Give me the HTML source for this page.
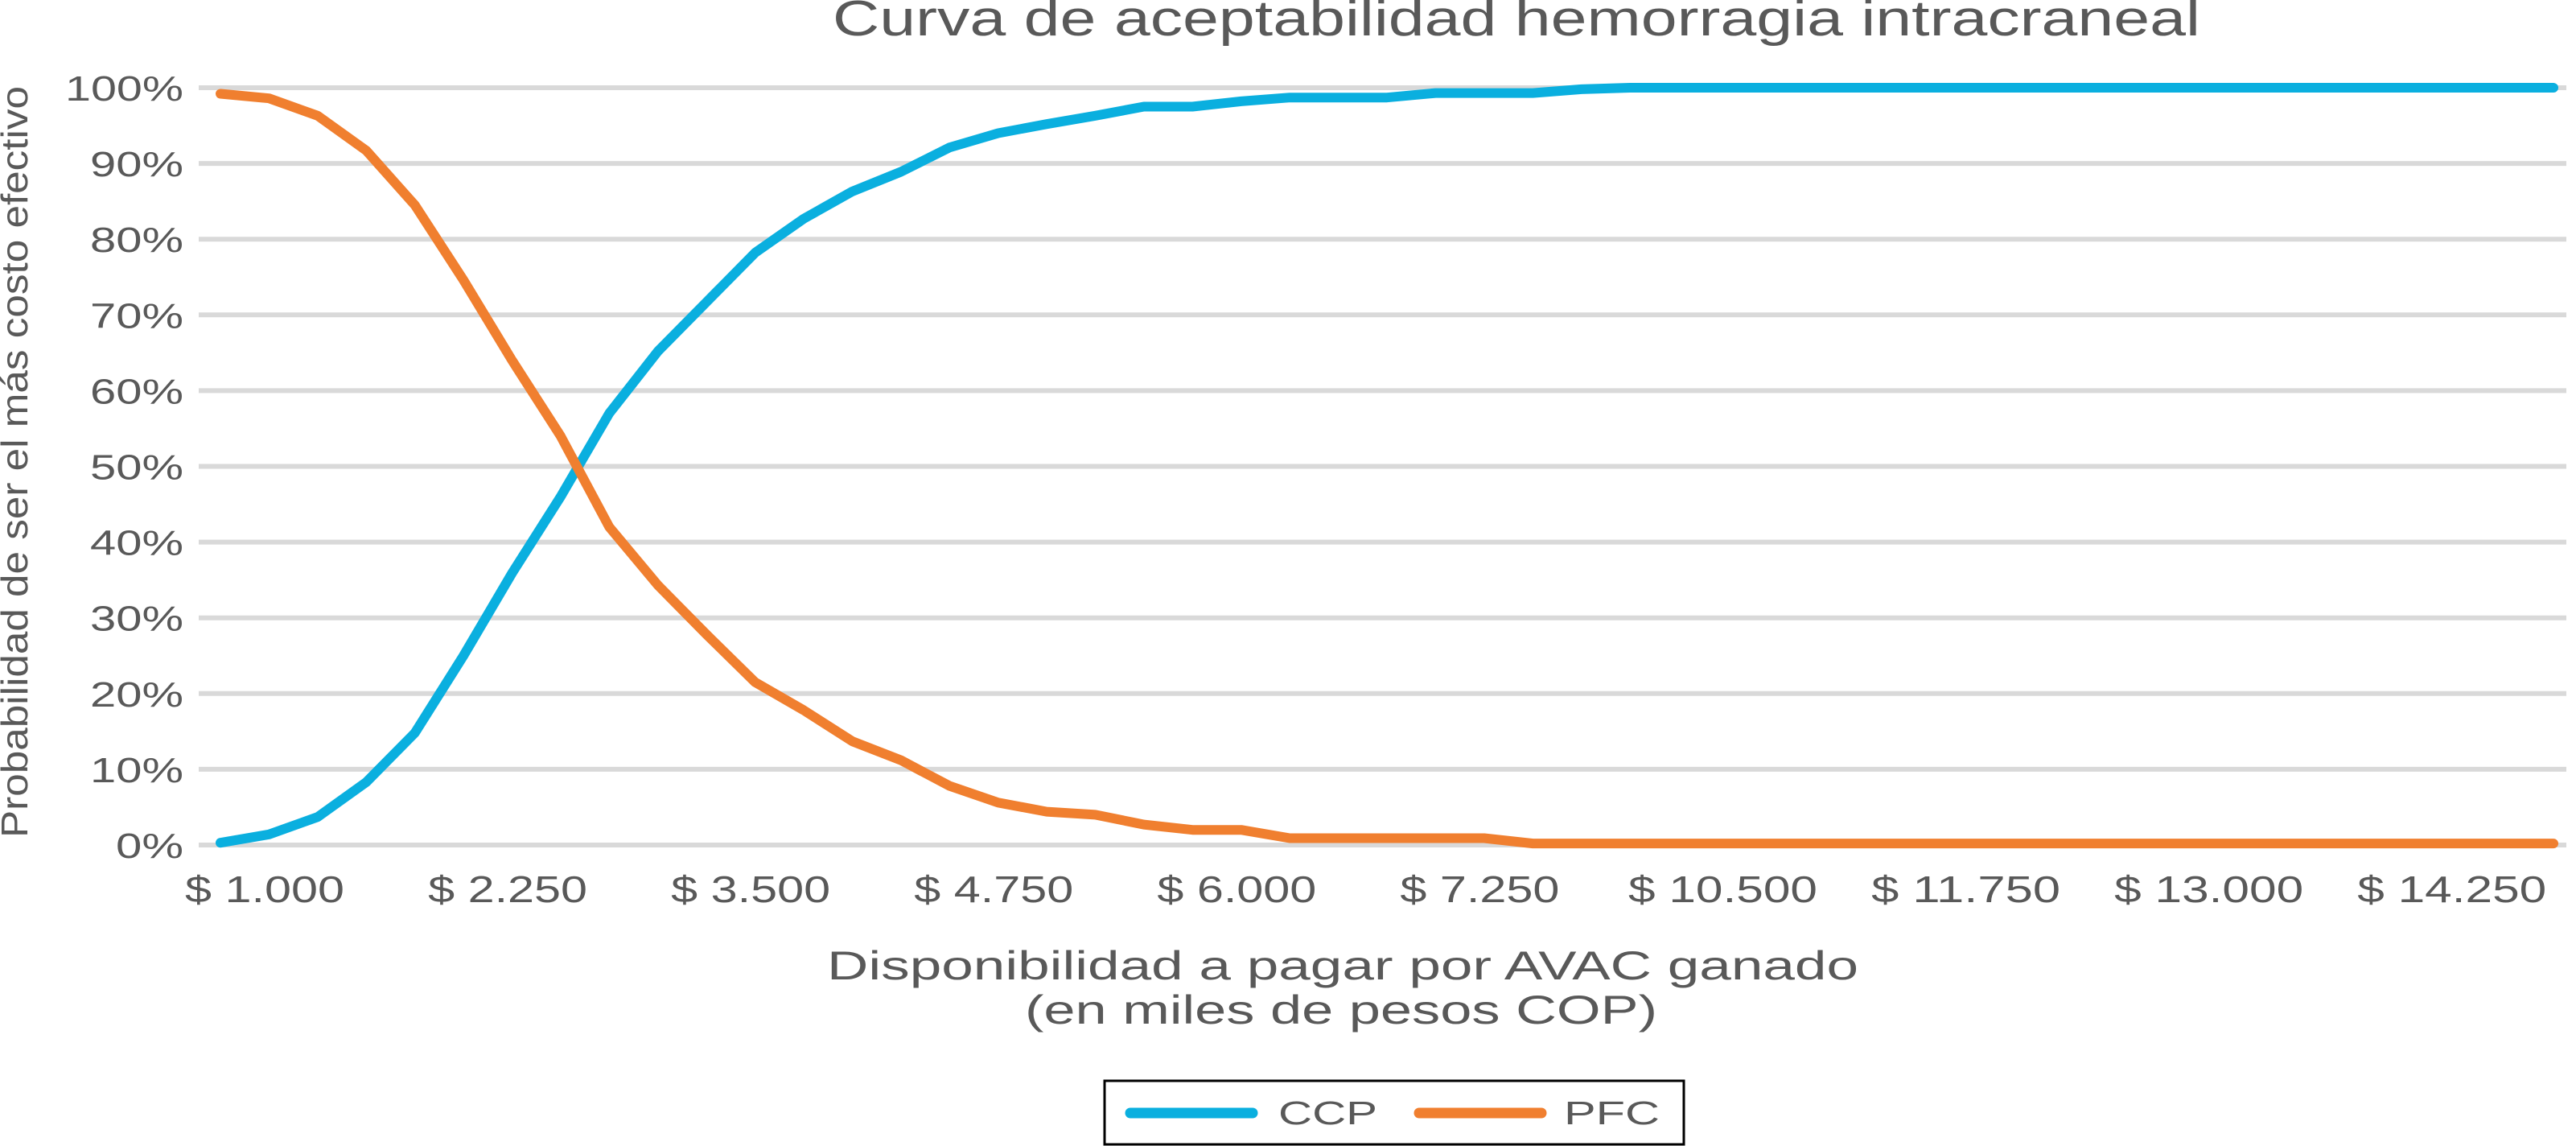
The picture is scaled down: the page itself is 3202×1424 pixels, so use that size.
<!DOCTYPE html>
<html><head><meta charset="utf-8"><style>
html,body{margin:0;padding:0;background:#fff;}
svg{display:block;font-family:"Liberation Sans",Arial,sans-serif;}
</style></head><body>
<svg id="chart" width="3202" height="1424" viewBox="0 0 3202 1424" xmlns="http://www.w3.org/2000/svg">
<text x="1885" y="44" font-size="62" fill="#595959" text-anchor="middle" textLength="1700" lengthAdjust="spacingAndGlyphs">Curva de aceptabilidad hemorragia intracraneal</text>
<g id="grid"></g>
<g id="yticks"></g>
<g id="xticks"></g>
<g id="series"></g>
<text transform="translate(34,574) rotate(-90)" font-size="46" fill="#595959" text-anchor="middle" textLength="934" lengthAdjust="spacingAndGlyphs">Probabilidad de ser el más costo efectivo</text>
<text x="1669" y="1217" font-size="50" fill="#595959" text-anchor="middle" textLength="1282" lengthAdjust="spacingAndGlyphs">Disponibilidad a pagar por AVAC ganado</text>
<text x="1667" y="1272" font-size="50" fill="#595959" text-anchor="middle" textLength="786" lengthAdjust="spacingAndGlyphs">(en miles de pesos COP)</text>
<g>
<rect x="1373" y="1343" width="720" height="79" fill="#fff" stroke="#000" stroke-width="3"/>
<line x1="1405" y1="1383" x2="1557" y2="1383" stroke="#0aafdf" stroke-width="13" stroke-linecap="round"/>
<text x="1589" y="1397" font-size="41" fill="#595959" textLength="123" lengthAdjust="spacingAndGlyphs">CCP</text>
<line x1="1764" y1="1383" x2="1916" y2="1383" stroke="#f07f2f" stroke-width="13" stroke-linecap="round"/>
<text x="1944" y="1397" font-size="41" fill="#595959" textLength="119" lengthAdjust="spacingAndGlyphs">PFC</text>
</g>
</svg>
<script>
const categories = [1000,1250,1500,1750,2000,2250,2500,2750,3000,3250,3500,3750,4000,4250,4500,4750,5000,5250,5500,5750,6000,6250,6500,6750,7000,7250,7500,7750,8000,10250,10500,10750,11000,11250,11500,11750,12000,12250,12500,12750,13000,13250,13500,13750,14000,14250,14500,14750,15000];
const ccpValues = [0.3,1.4,3.7,8.3,14.8,25,35.9,46,57,65.2,71.7,78.2,82.7,86.3,88.9,92.1,94,95.2,96.3,97.5,97.5,98.2,98.7,98.7,98.7,99.3,99.3,99.3,99.8,100,100,100,100,100,100,100,100,100,100,100,100,100,100,100,100,100,100,100,100];
const pfcValues = [99.2,98.6,96.3,91.7,84.5,74.6,64,54,42,34.3,27.8,21.5,17.8,13.7,11.2,7.8,5.6,4.4,4,2.7,2,2,0.9,0.9,0.9,0.9,0.9,0.2,0.2,0.2,0.2,0.2,0.2,0.2,0.2,0.2,0.2,0.2,0.2,0.2,0.2,0.2,0.2,0.2,0.2,0.2,0.2,0.2,0.2];
const yTicks = [0,10,20,30,40,50,60,70,80,90,100];

const NS = "http://www.w3.org/2000/svg";
const X0 = 274, X1 = 3174, Y0 = 1050, Y100 = 109;
function xPos(i){ return X0 + (X1 - X0) * i / (categories.length - 1); }
function yPos(v){ return Y0 - (Y0 - Y100) * v / 100; }
function fmt(n){ return "$ " + n.toLocaleString("de-DE"); }

const grid = document.getElementById("grid");
const yt = document.getElementById("yticks");
yTicks.forEach(t => {
  const l = document.createElementNS(NS, "line");
  l.setAttribute("x1", 247); l.setAttribute("x2", 3190);
  l.setAttribute("y1", yPos(t)); l.setAttribute("y2", yPos(t));
  l.setAttribute("stroke", "#d9d9d9"); l.setAttribute("stroke-width", 6);
  
  
  grid.appendChild(l);
  const tx = document.createElementNS(NS, "text");
  const s = t + "%";
  tx.setAttribute("x", 228); tx.setAttribute("y", yPos(t) + 16);
  tx.setAttribute("font-size", 44); tx.setAttribute("fill", "#595959");
  tx.setAttribute("text-anchor", "end");
  tx.setAttribute("textLength", s.length === 4 ? 147 : (s.length === 3 ? 116 : 84));
  tx.setAttribute("lengthAdjust", "spacingAndGlyphs");
  tx.textContent = s;
  
  
  yt.appendChild(tx);
});

const xt = document.getElementById("xticks");
categories.forEach((c, i) => {
  if (i % 5 !== 0) return;
  const tx = document.createElementNS(NS, "text");
  const s = fmt(c);
  tx.setAttribute("x", xPos(i) + 55); tx.setAttribute("y", 1121);
  tx.setAttribute("font-size", 46); tx.setAttribute("fill", "#595959");
  tx.setAttribute("text-anchor", "middle");
  tx.setAttribute("textLength", s.length >= 8 ? 235 : 198);
  tx.setAttribute("lengthAdjust", "spacingAndGlyphs");
  tx.textContent = s;
  
  
  xt.appendChild(tx);
});

const series = document.getElementById("series");
function drawLine(vals, color, name){
  const p = document.createElementNS(NS, "polyline");
  p.setAttribute("points", vals.map((v, i) => xPos(i).toFixed(1) + "," + yPos(v).toFixed(1)).join(" "));
  p.setAttribute("fill", "none"); p.setAttribute("stroke", color);
  p.setAttribute("stroke-width", 12); p.setAttribute("stroke-linejoin", "round"); p.setAttribute("stroke-linecap", "round");
  
  
  series.appendChild(p);
}
drawLine(ccpValues, "#0aafdf", "ccp-line");
drawLine(pfcValues, "#f07f2f", "pfc-line");
</script>
</body></html>
